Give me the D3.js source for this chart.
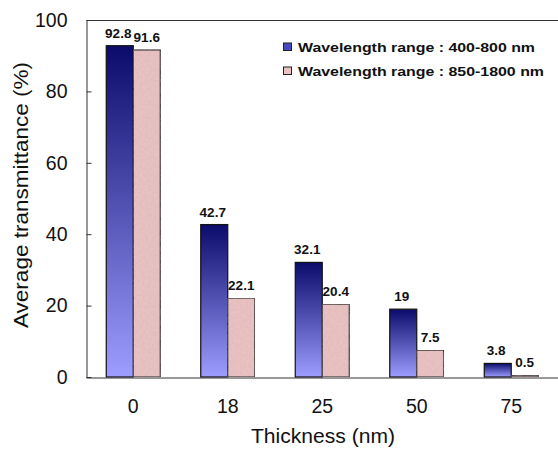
<!DOCTYPE html>
<html>
<head>
<meta charset="utf-8">
<script src="https://cdn.jsdelivr.net/npm/d3@7"></script>
<style>
  html, body { margin: 0; padding: 0; background: #fff; }
  svg { display: block; font-family: "Liberation Sans", Arial, sans-serif; }
</style>
</head>
<body>
<svg id="chart" width="558" height="451"></svg>
<script>
// Thickness categories (nm)
const thickness = ["0", "18", "25", "50", "75"];
// Average transmittance (%) for each wavelength range
const visible = [92.8, 42.7, 32.1, 19, 3.8];
const nearIR = [91.6, 22.1, 20.4, 7.5, 0.5];
const seriesNames = ["Wavelength range : 400-800 nm", "Wavelength range : 850-1800 nm"];
const yTicks = [0, 20, 40, 60, 80, 100];

const svg = d3.select("#chart");

const x = d3.scaleBand().domain(thickness).range([86, 558.5]).padding(0);
const y = d3.scaleLinear().domain([0, 100]).range([377, 20]);

const defs = svg.append("defs");
const grad = defs.append("linearGradient")
  .attr("id", "blueGrad").attr("x1", 0).attr("y1", 0).attr("x2", 0).attr("y2", 1);
grad.append("stop").attr("offset", "0%").attr("stop-color", "#0b0b6c");
grad.append("stop").attr("offset", "100%").attr("stop-color", "#9d9dff");

// speckled texture for the near-IR bars
const tex = defs.append("filter").attr("id", "speckle")
  .attr("x", 0).attr("y", 0).attr("width", 1).attr("height", 1);
tex.append("feTurbulence").attr("type", "fractalNoise")
  .attr("baseFrequency", 0.35).attr("numOctaves", 2).attr("seed", 3).attr("result", "noise");
tex.append("feColorMatrix").attr("in", "noise").attr("type", "matrix")
  .attr("values", "0 0 0 0 0.55  0 0 0 0 0.35  0 0 0 0 0.35  0 0 0 0.35 -0.08")
  .attr("result", "tint");
tex.append("feComposite").attr("in", "tint").attr("in2", "SourceGraphic")
  .attr("operator", "in").attr("result", "spots");
const merge = tex.append("feMerge");
merge.append("feMergeNode").attr("in", "SourceGraphic");
merge.append("feMergeNode").attr("in", "spots");

// plot frame: top edge
svg.append("line").attr("x1", 86.5).attr("x2", 558).attr("y1", 20.5).attr("y2", 20.5)
  .attr("stroke", "#333").attr("stroke-width", 1);

const bw = 27;
const groups = svg.append("g");

// visible range bars
groups.selectAll("rect.vis").data(visible).join("rect")
  .attr("class", "vis")
  .attr("x", (d, i) => x(thickness[i]) + x.bandwidth() / 2 - bw)
  .attr("y", d => y(d))
  .attr("width", bw)
  .attr("height", d => y(0) - y(d))
  .attr("fill", "url(#blueGrad)")
  .attr("stroke", "#111").attr("stroke-width", 1.2);

// near-IR range bars
groups.selectAll("rect.nir").data(nearIR).join("rect")
  .attr("class", "nir")
  .attr("x", (d, i) => x(thickness[i]) + x.bandwidth() / 2)
  .attr("y", d => y(d))
  .attr("width", bw)
  .attr("height", d => y(0) - y(d))
  .attr("fill", "#e9c3c3")
  .attr("filter", "url(#speckle)")
  .attr("stroke", "#333").attr("stroke-width", 1.2);

// value labels
const lblStyle = s => s.attr("font-size", 13.5).attr("font-weight", "bold")
  .attr("text-anchor", "middle").attr("fill", "#111");
groups.selectAll("text.vl").data(visible).join("text")
  .attr("class", "vl")
  .attr("x", (d, i) => x(thickness[i]) + x.bandwidth() / 2 - bw / 2 - 1.5)
  .attr("y", d => y(d) - 8)
  .text(d => d).call(lblStyle);
groups.selectAll("text.nl").data(nearIR).join("text")
  .attr("class", "nl")
  .attr("x", (d, i) => x(thickness[i]) + x.bandwidth() / 2 + bw / 2)
  .attr("y", d => y(d) - 8)
  .text(d => d).call(lblStyle);

// y axis
const yAxis = d3.axisLeft(y).tickValues(yTicks).tickSizeInner(-5).tickSizeOuter(0)
  .tickPadding(19).tickFormat(d3.format("d"));
const gy = svg.append("g").attr("transform", "translate(86.5,0)").call(yAxis);
gy.select(".domain").attr("stroke", "#333");
gy.selectAll(".tick line").attr("stroke", "#333");
gy.selectAll(".tick text").attr("font-size", 19.5).attr("fill", "#111")
  .attr("font-family", "Liberation Sans, Arial, sans-serif");

// x axis
const xAxis = d3.axisBottom(x).tickSize(0).tickSizeOuter(0).tickPadding(22);
const gx = svg.append("g").attr("transform", "translate(0,377.5)").call(xAxis);
gx.select(".domain").attr("stroke", "#333");
gx.selectAll(".tick text").attr("font-size", 19.5).attr("fill", "#111")
  .attr("font-family", "Liberation Sans, Arial, sans-serif");

// axis titles
svg.append("text").attr("x", 323).attr("y", 443).attr("text-anchor", "middle")
  .attr("font-size", 19.5).attr("fill", "#111")
  .attr("textLength", 144).attr("lengthAdjust", "spacingAndGlyphs")
  .text("Thickness (nm)");
svg.append("text").attr("transform", "translate(28,195) rotate(-90)")
  .attr("text-anchor", "middle").attr("font-size", 19.5).attr("fill", "#111")
  .attr("textLength", 266).attr("lengthAdjust", "spacingAndGlyphs")
  .text("Average transmittance (%)");

// legend
const legend = svg.append("g");
const fills = ["#4848c0", "#e9c3c3"];
const legendLen = [237, 246];
seriesNames.forEach((name, i) => {
  const ly = 43 + i * 24;
  legend.append("rect").attr("x", 283.5).attr("y", ly).attr("width", 8).attr("height", 7.5)
    .attr("fill", fills[i]).attr("stroke", "#222").attr("stroke-width", 1);
  legend.append("text").attr("x", 298).attr("y", ly + 8.5)
    .attr("font-size", 13).attr("font-weight", "bold").attr("fill", "#111")
    .attr("textLength", legendLen[i]).attr("lengthAdjust", "spacingAndGlyphs")
    .text(name);
});
</script>
</body>
</html>
